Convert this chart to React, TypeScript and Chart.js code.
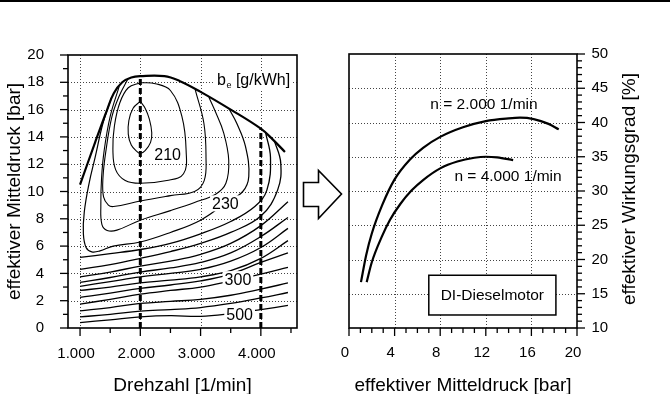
import React, { useEffect, useRef } from "react";
import { Chart, registerables } from "chart.js";
Chart.register(...registerables);

const FONT = "'Liberation Sans', Arial, sans-serif";

// ---------------- left panel: fuel consumption map ----------------
const speedTicks = [1000, 2000, 3000, 4000];
const speedMinorTicks = [1500, 2500, 3500, 4500];
const bmepTicks = [0, 2, 4, 6, 8, 10, 12, 14, 16, 18, 20];
const bmepMinorTicks = [1, 3, 5, 7, 9, 11, 13, 15, 17, 19];

type P = [number, number];
const fullLoad: P[] = [[1000, 10.5], [1250, 13.6], [1450, 16.0], [1560, 17.2], [1700, 18.0], [1850, 18.35], [2000, 18.45], [2400, 18.45], [2650, 18.1], [3000, 17.3], [3500, 16.0], [4000, 14.6], [4200, 13.8], [4400, 12.9]];
const iso205: P[] = [[2000, 16.6], [1880, 16.1], [1810, 15.2], [1800, 14.2], [1850, 13.4], [1950, 12.9], [2000, 12.8], [2080, 13.0], [2170, 13.6], [2190, 14.3], [2150, 15.3], [2080, 16.1], [2000, 16.6]];
const iso210: P[] = [[2000, 17.97], [1800, 17.6], [1660, 16.5], [1570, 14.8], [1545, 13.1], [1590, 11.6], [1750, 10.8], [2000, 10.6], [2440, 10.8], [2717, 11.3], [2760, 13.0], [2690, 15.5], [2500, 17.4], [2250, 17.9], [2000, 17.97]];
const iso215: P[] = [[1800, 18.3], [1650, 17.0], [1530, 15.5], [1430, 13.0], [1380, 11.0], [1390, 9.6], [1470, 9.0], [1555, 8.9], [2000, 9.3], [2500, 9.7], [2900, 10.0], [3060, 10.8], [3090, 12.5], [3055, 15.0], [2912, 17.45]];
const iso220: P[] = [[1650, 17.7], [1500, 15.5], [1400, 13.0], [1357, 11.0], [1345, 9.0], [1362, 7.6], [1450, 7.15], [1612, 7.17], [2000, 7.9], [2500, 8.6], [2900, 9.2], [3250, 9.8], [3420, 10.6], [3467, 12.3], [3383, 14.3], [3250, 15.8], [3138, 16.9]];
const iso230: P[] = [[1520, 16.85], [1380, 15.0], [1250, 12.5], [1150, 10.6], [1070, 8.5], [1055, 6.9], [1100, 5.9], [1195, 5.58], [1330, 5.65], [1550, 6.0], [2000, 6.3], [2500, 7.0], [3000, 7.9], [3400, 9.1], [3700, 10.0], [3800, 11.1], [3745, 13.3], [3600, 15.0], [3467, 16.1]];
const iso240: P[] = [[1000, 5.17], [1500, 5.45], [2000, 5.75], [2500, 6.2], [3000, 6.9], [3500, 7.8], [3900, 8.9], [4100, 10.1], [4160, 12.5], [4080, 14.3]];
const iso250: P[] = [[1000, 4.3], [1500, 4.65], [2000, 5.1], [2500, 5.6], [3000, 6.2], [3500, 7.0], [4000, 8.2], [4278, 10.1], [4330, 12.1], [4222, 13.75]];

const partLoadSpeeds = [1000, 1500, 2000, 2500, 3000, 3500, 4000, 4450];
const iso260 = [3.75, 4.1, 4.53, 4.9, 5.4, 6.2, 7.5, 9.25];
const iso270 = [3.35, 3.7, 4.1, 4.4, 4.8, 5.5, 6.7, 8.1];
const iso280 = [3.05, 3.4, 3.75, 4.0, 4.3, 4.9, 5.9, 7.3];
const iso290 = [2.75, 3.0, 3.3, 3.5, 3.75, 4.2, 5.1, 6.4];
const iso295 = [2.25, 2.55, 2.9, 3.15, 3.45, 3.95, 4.8, 5.5];
const iso300 = [1.75, 2.1, 2.48, 2.75, 3.0, 3.45, 3.95, 4.45];
const iso350 = [1.25, 1.5, 1.8, 1.95, 2.1, 2.4, 2.85, 3.3];
const iso400 = [0.81, 1.0, 1.23, 1.35, 1.5, 1.8, 2.2, 2.6];
const iso500 = [0.4, 0.6, 0.81, 0.9, 0.85, 1.05, 1.35, 1.65];

const markerSpeeds = [2000, 4000];
const markerBmep = [18.45, 14.6];

const mapLabels = [
  { text: "210", x: 2453, y: 12.67 },
  { text: "230", x: 3412, y: 9.13 },
  { text: "300", x: 3620, y: 3.58 },
  { text: "500", x: 3648, y: 0.95 },
];
const unitLabel = { x: 3273, y: 18.1 };

// ---------------- right panel: efficiency ----------------
const pmeTicks = [0, 4, 8, 12, 16, 20];
const pmeMinorTicks = [1, 2, 3, 5, 6, 7, 9, 10, 11, 13, 14, 15, 17, 18, 19];
const etaTicks = [10, 15, 20, 25, 30, 35, 40, 45, 50];
const etaMinorTicks = [11, 12, 13, 14, 16, 17, 18, 19, 21, 22, 23, 24, 26, 27, 28, 29, 31, 32, 33, 34, 36, 37, 38, 39, 41, 42, 43, 44, 46, 47, 48, 49];

const eta2000Pme = [1.05, 1.5, 2.0, 2.9, 4.0, 5.35, 6.5, 8.0, 10.0, 12.0, 14.0, 15.0, 16.2, 17.5, 18.4];
const eta2000 = [16.7, 20.6, 23.8, 27.9, 31.7, 34.6, 36.3, 37.9, 39.3, 40.2, 40.6, 40.7, 40.5, 39.8, 39.0];
const eta4000Pme = [1.55, 2.0, 2.87, 3.6, 4.5, 5.5, 6.5, 8.0, 9.5, 11.0, 12.0, 13.0, 14.4];
const eta4000 = [16.7, 19.6, 23.3, 25.8, 28.1, 30.1, 31.6, 33.3, 34.3, 34.85, 35.0, 34.9, 34.5];

const curveLabels = [
  { text: "n = 2.000 1/min", x: 11.84, y: 42.6 },
  { text: "n = 4.000 1/min", x: 13.95, y: 32.1 },
];
const engineBox = { text: "DI-Dieselmotor", x0: 7.0, x1: 18.15, y0: 11.9, y1: 17.7 };

const fmt = (v: number) =>
  v >= 1000 ? Math.floor(v / 1000) + "." + String(v % 1000).padStart(3, "0") : String(v);

function toPts(a: P[]) {
  return a.map(([x, y]) => ({ x, y }));
}
function zipPts(xs: number[], ys: number[]) {
  return xs.map((x, i) => ({ x, y: ys[i] }));
}

function drawGrid(chart: any, xs: number[], ys: number[]) {
  const { ctx, chartArea: a, scales } = chart;
  const sx = scales.x, sy = scales.y;
  ctx.save();
  ctx.strokeStyle = "#444";
  ctx.lineWidth = 1;
  ctx.setLineDash([1, 2]);
  for (const v of xs) {
    const p = Math.round(sx.getPixelForValue(v)) + 0.5;
    ctx.beginPath(); ctx.moveTo(p, a.top); ctx.lineTo(p, a.bottom); ctx.stroke();
  }
  for (const v of ys) {
    const p = Math.round(sy.getPixelForValue(v)) + 0.5;
    ctx.beginPath(); ctx.moveTo(a.left, p); ctx.lineTo(a.right, p); ctx.stroke();
  }
  ctx.restore();
}

function drawTicks(chart: any, axis: "x" | "y", side: string, majors: number[], minors: number[]) {
  const { ctx, chartArea: a } = chart;
  const s = chart.scales[axis];
  ctx.save();
  ctx.strokeStyle = "#000";
  ctx.lineWidth = 1.3;
  const one = (v: number, len: number) => {
    const p = s.getPixelForValue(v);
    ctx.beginPath();
    if (side === "bottom") { ctx.moveTo(p, a.bottom); ctx.lineTo(p, a.bottom + len); }
    else if (side === "left") { ctx.moveTo(a.left, p); ctx.lineTo(a.left - len, p); }
    else { ctx.moveTo(a.right, p); ctx.lineTo(a.right + len, p); }
    ctx.stroke();
  };
  majors.forEach((v) => one(v, 8));
  minors.forEach((v) => one(v, 5));
  ctx.restore();
}

function drawFrame(chart: any) {
  const { ctx, chartArea: a } = chart;
  ctx.save();
  ctx.strokeStyle = "#000";
  ctx.lineWidth = 1.6;
  ctx.strokeRect(a.left, a.top, a.right - a.left, a.bottom - a.top);
  ctx.fillStyle = "#000";
  ctx.fillRect(0, 0, chart.width, 2);
  ctx.restore();
}

const leftDecor = {
  id: "leftDecor",
  beforeDatasetsDraw(chart: any) {
    drawGrid(chart, speedTicks, bmepTicks.filter((v) => v > 0 && v < 20));
  },
  afterDatasetsDraw(chart: any) {
    const { ctx, scales: { x, y } } = chart;
    ctx.save();
    ctx.font = `16px ${FONT}`;
    ctx.textAlign = "center";
    ctx.textBaseline = "middle";
    for (const l of mapLabels) {
      const cx = x.getPixelForValue(l.x), cy = y.getPixelForValue(l.y);
      const w = ctx.measureText(l.text).width;
      ctx.fillStyle = "#fff";
      ctx.fillRect(cx - w / 2 - 2, cy - 8, w + 4, 16);
      ctx.fillStyle = "#000";
      ctx.fillText(l.text, cx, cy + 1);
    }
    // b_e [g/kWh]
    const ux = x.getPixelForValue(unitLabel.x);
    const uy = y.getPixelForValue(unitLabel.y);
    ctx.textAlign = "left";
    ctx.font = `16px ${FONT}`;
    const wb = ctx.measureText("b").width;
    ctx.font = `9px ${FONT}`;
    const we = ctx.measureText("e").width;
    ctx.font = `16px ${FONT}`;
    const wr = ctx.measureText(" [g/kWh]").width;
    ctx.fillStyle = "#fff";
    ctx.fillRect(ux - 3, uy - 9, wb + we + wr + 6, 18);
    ctx.fillStyle = "#000";
    ctx.fillText("b", ux, uy);
    ctx.font = `9px ${FONT}`;
    ctx.fillText("e", ux + wb + 0.5, uy + 5);
    ctx.font = `16px ${FONT}`;
    ctx.fillText(" [g/kWh]", ux + wb + we + 0.5, uy);
    ctx.restore();
    drawFrame(chart);
    drawTicks(chart, "x", "bottom", speedTicks, speedMinorTicks);
    drawTicks(chart, "y", "left", bmepTicks, bmepMinorTicks);
  },
};

const rightDecor = {
  id: "rightDecor",
  beforeDatasetsDraw(chart: any) {
    drawGrid(chart, pmeTicks.filter((v) => v > 0 && v < 20), etaTicks.filter((v) => v > 10 && v < 50));
  },
  afterDatasetsDraw(chart: any) {
    const { ctx, scales: { x, y } } = chart;
    ctx.save();
    ctx.font = `15.5px ${FONT}`;
    ctx.textAlign = "center";
    ctx.textBaseline = "middle";
    ctx.fillStyle = "#000";
    for (const l of curveLabels) {
      ctx.fillText(l.text, x.getPixelForValue(l.x), y.getPixelForValue(l.y));
    }
    const bx0 = x.getPixelForValue(engineBox.x0), bx1 = x.getPixelForValue(engineBox.x1);
    const by0 = y.getPixelForValue(engineBox.y1), by1 = y.getPixelForValue(engineBox.y0);
    ctx.fillStyle = "#fff";
    ctx.fillRect(bx0, by0, bx1 - bx0, by1 - by0);
    ctx.strokeStyle = "#000";
    ctx.lineWidth = 1.5;
    ctx.strokeRect(bx0, by0, bx1 - bx0, by1 - by0);
    ctx.fillStyle = "#000";
    ctx.fillText(engineBox.text, (bx0 + bx1) / 2, (by0 + by1) / 2 + 1);

    // right axis title, reading bottom-to-top
    ctx.save();
    ctx.translate(330, 189);
    ctx.rotate(-Math.PI / 2);
    ctx.font = `19px ${FONT}`;
    ctx.fillText("effektiver Wirkungsgrad [%]", 0, 0);
    ctx.restore();

    // hollow arrow between the panels
    ctx.beginPath();
    ctx.moveTo(3.5, 182.5);
    ctx.lineTo(18.5, 182.5);
    ctx.lineTo(18.5, 170.5);
    ctx.lineTo(41.5, 194);
    ctx.lineTo(18.5, 218.5);
    ctx.lineTo(18.5, 206.5);
    ctx.lineTo(3.5, 206.5);
    ctx.closePath();
    ctx.fillStyle = "#fff";
    ctx.fill();
    ctx.lineWidth = 1.6;
    ctx.strokeStyle = "#000";
    ctx.stroke();
    ctx.restore();
    drawFrame(chart);
    drawTicks(chart, "x", "bottom", pmeTicks, pmeMinorTicks);
    drawTicks(chart, "y", "right", etaTicks, etaMinorTicks);
  },
};

const tickFont = { family: FONT, size: 15 };
const titleFont = { family: FONT, size: 19, lineHeight: 1 };

function line(data: any[], width: number, extra: any = {}) {
  return { data, showLine: true, borderColor: "#000", borderWidth: width, pointRadius: 0, tension: 0.4, fill: false, ...extra };
}

function makeLeft(): any {
  const iso = [iso260, iso270, iso280, iso290, iso295, iso300, iso350, iso400, iso500];
  return {
    type: "scatter",
    data: {
      datasets: [
        line(toPts(iso205), 1.1),
        line(toPts(iso210), 1.1),
        line(toPts(iso215), 1.1),
        line(toPts(iso220), 1.1),
        line(toPts(iso230), 1.2),
        line(toPts(iso240), 1.3),
        line(toPts(iso250), 1.3),
        ...iso.map((ys) => line(zipPts(partLoadSpeeds, ys), 1.3)),
        line(toPts(fullLoad), 2.2),
        ...markerSpeeds.map((s, i) =>
          line([{ x: s, y: 0 }, { x: s, y: markerBmep[i] }], 3, { tension: 0, borderDash: [6, 3] })
        ),
      ],
    },
    options: {
      responsive: false,
      animation: false,
      devicePixelRatio: 1,
      events: [],
      layout: { padding: { left: 0, right: 3, top: 55, bottom: 0 } },
      plugins: { legend: { display: false }, tooltip: { enabled: false } },
      scales: {
        x: {
          type: "linear",
          min: 800,
          max: 4600,
          afterBuildTicks: (s: any) => { s.ticks = speedTicks.map((v) => ({ value: v })); },
          afterFit: (s: any) => { s.height = 66; },
          grid: { display: false, drawTicks: false },
          border: { display: false },
          ticks: { font: tickFont, color: "#000", padding: 17, labelOffset: -4, autoSkip: false, maxRotation: 0, callback: (v: any) => fmt(Number(v)) },
          title: { display: true, text: "Drehzahl [1/min]", font: titleFont, color: "#000", padding: { top: 0, bottom: -1 } },
        },
        y: {
          type: "linear",
          min: 0,
          max: 20,
          afterBuildTicks: (s: any) => { s.ticks = bmepTicks.map((v) => ({ value: v })); },
          afterFit: (s: any) => { s.width = 68; },
          grid: { display: false, drawTicks: false },
          border: { display: false },
          ticks: { font: tickFont, color: "#000", padding: 24, autoSkip: false },
          title: { display: true, text: "effektiver Mitteldruck [bar]", font: titleFont, color: "#000", padding: { top: 5, bottom: 0 } },
        },
      },
    },
    plugins: [leftDecor],
  };
}

function makeRight(): any {
  return {
    type: "scatter",
    data: {
      datasets: [
        line(zipPts(eta2000Pme, eta2000), 2.2, { cubicInterpolationMode: "monotone" }),
        line(zipPts(eta4000Pme, eta4000), 2.2, { cubicInterpolationMode: "monotone" }),
      ],
    },
    options: {
      responsive: false,
      animation: false,
      devicePixelRatio: 1,
      events: [],
      layout: { padding: { left: 49, right: 0, top: 54, bottom: 0 } },
      plugins: { legend: { display: false }, tooltip: { enabled: false } },
      scales: {
        x: {
          type: "linear",
          min: 0,
          max: 20,
          afterBuildTicks: (s: any) => { s.ticks = pmeTicks.map((v) => ({ value: v })); },
          afterFit: (s: any) => { s.height = 66; },
          grid: { display: false, drawTicks: false },
          border: { display: false },
          ticks: { font: tickFont, color: "#000", padding: 16, labelOffset: -4, autoSkip: false, maxRotation: 0 },
          title: { display: true, text: "effektiver Mitteldruck [bar]", font: titleFont, color: "#000", padding: { top: 0, bottom: -1 } },
        },
        y: {
          type: "linear",
          position: "right",
          min: 10,
          max: 50,
          afterBuildTicks: (s: any) => { s.ticks = etaTicks.map((v) => ({ value: v })); },
          afterFit: (s: any) => { s.width = 93; },
          grid: { display: false, drawTicks: false },
          border: { display: false },
          ticks: { font: tickFont, color: "#000", padding: 14.5, autoSkip: false },
        },
      },
    },
    plugins: [rightDecor],
  };
}

function ChartCanvas({ make, left, width }: { make: () => any; left: number; width: number }) {
  const ref = useRef<HTMLCanvasElement>(null);
  useEffect(() => {
    const c = new Chart(ref.current as HTMLCanvasElement, make());
    return () => c.destroy();
  }, []);
  return (
    <canvas
      ref={ref}
      width={width}
      height={394}
      style={{ position: "absolute", left, top: 0, width, height: 394 }}
    />
  );
}

export default function App() {
  return (
    <div style={{ position: "fixed", left: 0, top: 0, width: 670, height: 394, background: "#fff", overflow: "hidden" }}>
      <ChartCanvas make={makeLeft} left={0} width={300} />
      <ChartCanvas make={makeRight} left={300} width={370} />
    </div>
  );
}
